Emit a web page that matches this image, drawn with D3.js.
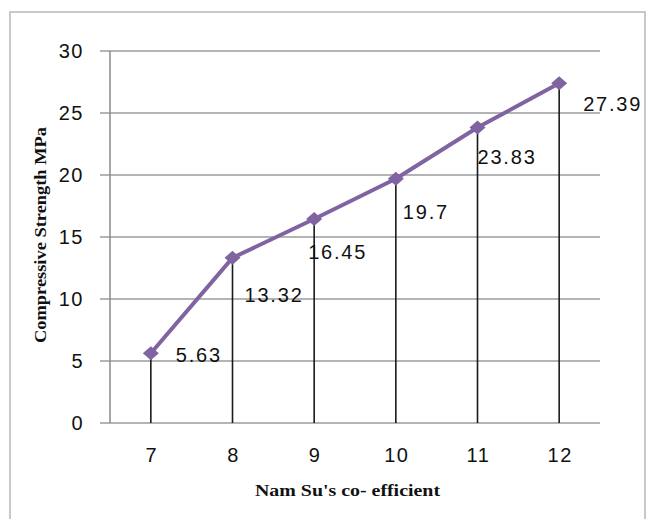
<!DOCTYPE html>
<html>
<head>
<meta charset="utf-8">
<script src="https://cdn.jsdelivr.net/npm/d3@7"></script>
<style>
  html, body { margin: 0; padding: 0; background: #fff; }
  svg { display: block; }
</style>
</head>
<body>
<script>
const categories = ["7", "8", "9", "10", "11", "12"];
const strength = [5.63, 13.32, 16.45, 19.7, 23.83, 27.39];
const valueLabels = ["5.63", "13.32", "16.45", "19.7", "23.83", "27.39"];
const yTicks = [0, 5, 10, 15, 20, 25, 30];
const xTitle = "Nam Su's co- efficient";
const yTitle = "Compressive Strength MPa";
// label offsets (layout only)
const labelDx = [25, 12, -6, 7, 0, 24];
const labelDy = [9, 44, 40, 40, 36, 28];

(function () {
const W = 646, H = 519;
const plotL = 110, plotR = 600, plotT = 51, plotB = 423;

const svg = d3.select("body").append("svg").attr("width", W).attr("height", H);

svg.append("rect").attr("x", 10).attr("y", 12).attr("width", 635).attr("height", 530)
  .attr("fill", "#fff").attr("stroke", "#c8c8c8").attr("stroke-width", 2);

const x = d3.scaleBand().domain(categories).range([plotL, plotR]);
const y = d3.scaleLinear().domain([0, 30]).range([plotB, plotT]);

// gridlines
svg.append("g").selectAll("line").data(yTicks).join("line")
  .attr("x1", plotL - 10).attr("x2", plotR)
  .attr("y1", d => y(d)).attr("y2", d => y(d))
  .attr("stroke", "#b4b4b4").attr("stroke-width", 2);

// y axis line
svg.append("line").attr("x1", plotL).attr("x2", plotL).attr("y1", plotT).attr("y2", plotB)
  .attr("stroke", "#8a8a8a").attr("stroke-width", 1.5);

const numFont = "'Liberation Sans', Arial, sans-serif";

// y tick labels
svg.append("g").selectAll("text").data(yTicks).join("text")
  .attr("x", 84).attr("y", d => y(d) + 7)
  .attr("text-anchor", "end")
  .attr("font-family", numFont).attr("font-size", 20)
  .attr("letter-spacing", 1.5)
  .attr("fill", "#111")
  .text(d => d);

// x tick labels
svg.append("g").selectAll("text").data(categories).join("text")
  .attr("x", d => x(d) + x.bandwidth() / 2 + 1).attr("y", 462)
  .attr("text-anchor", "middle")
  .attr("font-family", numFont).attr("font-size", 20)
  .attr("letter-spacing", 1.5)
  .attr("fill", "#111")
  .text(d => d);

const cx = i => x(categories[i]) + x.bandwidth() / 2;

// drop lines
svg.append("g").selectAll("line").data(strength).join("line")
  .attr("x1", (d, i) => cx(i)).attr("x2", (d, i) => cx(i))
  .attr("y1", d => y(d)).attr("y2", y(0))
  .attr("stroke", "#1a1a1a").attr("stroke-width", 1.6);

// line
const line = d3.line().x((d, i) => cx(i)).y(d => y(d));
svg.append("path").datum(strength)
  .attr("d", line).attr("fill", "none")
  .attr("stroke", "#8064a2").attr("stroke-width", 4)
  .attr("stroke-linejoin", "round");

// diamond markers
svg.append("g").selectAll("path").data(strength).join("path")
  .attr("d", (d, i) => {
    const px = cx(i), py = y(d);
    return `M${px - 8},${py} L${px},${py - 7} L${px + 8},${py} L${px},${py + 7} Z`;
  })
  .attr("fill", "#8064a2");

// data labels
svg.append("g").selectAll("text").data(strength).join("text")
  .attr("x", (d, i) => cx(i) + labelDx[i])
  .attr("y", (d, i) => y(d) + labelDy[i])
  .attr("font-family", numFont).attr("font-size", 20)
  .attr("letter-spacing", 1.8)
  .attr("fill", "#111")
  .text((d, i) => valueLabels[i]);

// axis titles
svg.append("text")
  .attr("x", 255).attr("y", 496)
  .attr("font-family", "'Liberation Serif', 'Times New Roman', serif")
  .attr("font-size", 16).attr("font-weight", "bold")
  .attr("textLength", 185).attr("lengthAdjust", "spacingAndGlyphs")
  .attr("fill", "#111")
  .text(xTitle);

svg.append("text")
  .attr("transform", "translate(46,343) rotate(-90)")
  .attr("x", 0).attr("y", 0)
  .attr("font-family", "'Liberation Serif', 'Times New Roman', serif")
  .attr("font-size", 16).attr("font-weight", "bold")
  .attr("textLength", 216).attr("lengthAdjust", "spacingAndGlyphs")
  .attr("fill", "#111")
  .text(yTitle);
})();
</script>
</body>
</html>
